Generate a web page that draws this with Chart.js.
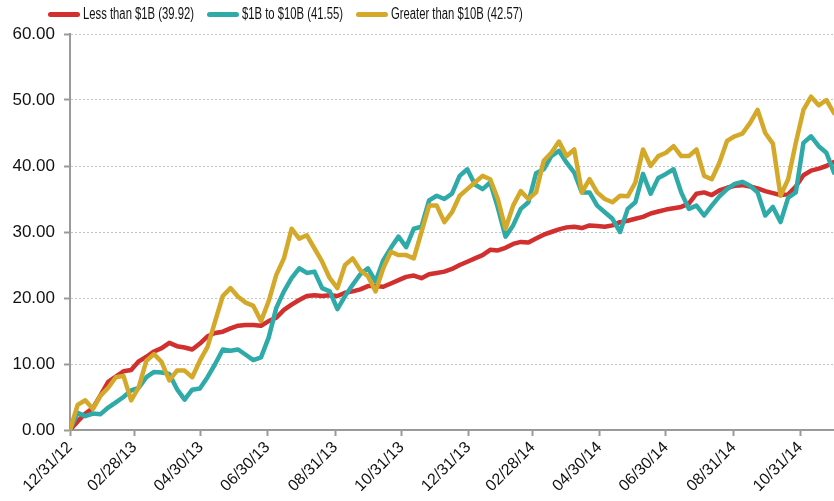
<!DOCTYPE html>
<html><head><meta charset="utf-8">
<script src="https://cdn.jsdelivr.net/npm/chart.js@4.4.0/dist/chart.umd.min.js"></script>
<style>
html,body{margin:0;padding:0;background:#fff;}
#wrap{position:relative;width:834px;height:501px;overflow:hidden;}
canvas{position:absolute;left:0;top:0;}
#legend{position:absolute;left:48px;top:5px;display:flex;align-items:center;font-family:"Liberation Sans",Arial,sans-serif;font-size:16px;color:#111;white-space:nowrap;}
.item{display:flex;align-items:center;margin-right:13px;}
.swatch{width:32px;height:5px;border-radius:2.5px;margin-right:3px;flex:none;}
.txt{display:inline-block;transform:scaleX(0.705);transform-origin:0 50%;}
</style></head>
<body><div id="wrap"><canvas id="c" width="834" height="501"></canvas><div id="legend"></div></div>
<script>
// ---- data (weekly samples starting 12/31/12) ----
const START_LABEL = '12/31/12';
const STEP_DAYS = 7;
const seriesNames = ['Less than $1B (39.92)', '$1B to $10B (41.55)', 'Greater than $10B (42.57)'];
const lessThan1B = [
  0, 1.3, 2.5, 3.3, 5.3, 7.3, 8.1, 8.9, 9.1, 10.4, 11.1, 11.9, 12.4, 13.2, 12.7, 12.5, 12.2, 13.1, 14.2, 14.7,
  14.9, 15.4, 15.8, 15.9, 15.9, 15.8, 16.5, 17.0, 18.2, 19.0, 19.7, 20.3, 20.4, 20.3, 20.4,
  20.3, 20.8, 21.0, 21.3, 21.8, 21.8, 21.7, 22.2, 22.7, 23.2, 23.4, 23.0, 23.6, 23.8, 24.0, 24.4, 25.0, 25.5,
  26.0, 26.5, 27.3, 27.2, 27.6, 28.2, 28.5, 28.4, 29.0, 29.6, 30.0, 30.4, 30.7, 30.8, 30.6,
  31.0, 30.9, 30.8, 31.0, 31.5, 31.7, 32.0, 32.3, 32.8, 33.1, 33.4, 33.6, 33.8, 34.3, 35.8, 36.0, 35.6, 36.3,
  36.7, 37.0, 37.1, 36.9, 36.6, 36.2, 35.9, 35.6, 35.7, 36.9, 38.6, 39.3, 39.6, 40.0, 40.6
];
const from1Bto10B = [
  0, 2.6, 2.1, 2.5, 2.4, 3.4, 4.2, 5.0, 6.0, 6.4, 8.0, 8.8, 8.7, 8.5, 6.2, 4.6, 6.1, 6.3, 8.0, 10.0,
  12.2, 12.0, 12.2, 11.4, 10.6, 11.0, 14.0, 18.5, 21.0, 23.0, 24.5, 23.8, 24.0, 21.5, 21.0,
  18.3, 20.3, 22.0, 23.6, 24.5, 22.5, 25.7, 27.6, 29.3, 27.7, 30.5, 30.8, 34.8, 35.5, 35.0, 35.8, 38.5, 39.5,
  37.2, 36.5, 37.5, 33.7, 29.3, 31.0, 33.5, 34.5, 38.9, 39.5, 41.5, 42.3, 40.5, 39.0, 36.0,
  36.0, 34.0, 33.0, 32.0, 30.0, 33.5, 34.5, 38.8, 35.8, 38.2, 38.8, 39.5, 36.0, 33.5, 34.0, 32.5, 34.0, 35.4,
  36.5, 37.3, 37.6, 37.0, 36.0, 32.5, 33.8, 31.5, 35.2, 36.0, 43.5, 44.5, 43.0, 42.0, 39.0
];
const greaterThan10B = [
  0, 3.8, 4.5, 3.2, 5.2, 6.4, 8.0, 8.2, 4.5, 6.5, 10.5, 11.5, 10.3, 7.5, 9.0, 9.0, 8.0, 10.5, 12.6, 16.5,
  20.3, 21.5, 20.2, 19.3, 18.8, 16.5, 19.5, 23.5, 26.0, 30.5, 29.0, 29.5, 27.5, 25.5, 23.0,
  21.5, 25.0, 26.0, 24.2, 23.3, 21.0, 24.5, 27.0, 26.5, 26.5, 26.0, 30.0, 34.0, 34.0, 31.5, 33.0, 35.5, 36.5,
  37.5, 38.5, 38.0, 35.0, 30.5, 34.0, 36.2, 35.0, 36.0, 40.8, 42.0, 43.7, 41.5, 42.5, 36.0,
  38.0, 36.0, 35.0, 34.5, 35.5, 35.4, 37.5, 42.5, 40.0, 41.5, 42.0, 43.0, 41.5, 41.5, 42.5, 38.5, 38.0, 40.5,
  43.8, 44.5, 44.9, 46.5, 48.5, 45.0, 43.4, 35.5, 38.0, 43.5, 48.5, 50.5, 49.2, 50.0, 48.0
];
const xTickLabels = ['12/31/12','02/28/13','04/30/13','06/30/13','08/31/13','10/31/13','12/31/13','02/28/14','04/30/14','06/30/14','08/31/14','10/31/14'];
const X_END_LABEL = '12/01/14';
const Y_MIN = 0, Y_MAX = 60, Y_STEP = 10;

// ---- styling ----
const colors = ['#D22F2F', '#2EAAA8', '#D4A828'];
const drawOrder = [2, 1, 0];
const LEGEND_SQUEEZE = 0.705;

function toDay(lbl){
  const [m,d,y] = lbl.split('/').map(Number);
  return Date.UTC(2000+y, m-1, d) / 86400000;
}
const day0 = toDay(START_LABEL);
const tickDays = xTickLabels.map(l => toDay(l) - day0);
const xMax = toDay(X_END_LABEL) - day0;
const allSeries = [lessThan1B, from1Bto10B, greaterThan10B];

// HTML legend
const leg = document.getElementById('legend');
seriesNames.forEach((n,i)=>{
  const it = document.createElement('div'); it.className='item';
  const sw = document.createElement('div'); sw.className='swatch'; sw.style.background=colors[i];
  const tx = document.createElement('span'); tx.className='txt'; tx.textContent = n;
  it.appendChild(sw); it.appendChild(tx); leg.appendChild(it);
  const w = tx.getBoundingClientRect().width / LEGEND_SQUEEZE;
  tx.style.marginRight = (-(w - w*LEGEND_SQUEEZE)).toFixed(1) + 'px';
});

const tickFont = {family:'"Liberation Sans", Arial, sans-serif'};
new Chart(document.getElementById('c').getContext('2d'), {
  type:'line',
  data:{
    datasets: allSeries.map((s,i)=>({
      label: seriesNames[i],
      data: s.map((v,j)=>({x:j*STEP_DAYS, y:v})),
      borderColor: colors[i],
      backgroundColor: colors[i],
      borderWidth: 4.5,
      pointRadius: 0,
      tension: 0,
      borderJoinStyle: 'round',
      borderCapStyle: 'round',
      order: drawOrder[i]
    }))
  },
  options:{
    responsive:false, animation:false, devicePixelRatio:1,
    layout:{padding:{top:34,right:0,left:0,bottom:0}},
    plugins:{legend:{display:false}, tooltip:{enabled:false}},
    scales:{
      x:{
        type:'linear', min:0, max:xMax,
        afterBuildTicks: s => { s.ticks = tickDays.map(v=>({value:v})); },
        afterFit: s => { s.height = 71; },
        ticks:{
          callback:(v,i)=> xTickLabels[i],
          autoSkip:false, maxRotation:45, minRotation:45,
          color:'#111', font:{...tickFont, size:16}, padding:2
        },
        grid:{drawOnChartArea:false, drawTicks:true, tickLength:6, tickColor:'#9a9a9a', tickWidth:2},
        border:{color:'#9a9a9a', width:2}
      },
      y:{
        min:Y_MIN, max:Y_MAX,
        afterFit: s => { s.width = 70; },
        ticks:{stepSize:Y_STEP, callback:v=>Number(v).toFixed(2), color:'#111', font:{...tickFont, size:17}, padding:9},
        grid:{color:'#c2c2c2', lineWidth:1, tickColor:'#9a9a9a', tickLength:6, tickWidth:2, tickBorderDash:[]},
        border:{color:'#9a9a9a', width:2, dash:[2,2]}
      }
    }
  }
});
</script>
</body></html>
